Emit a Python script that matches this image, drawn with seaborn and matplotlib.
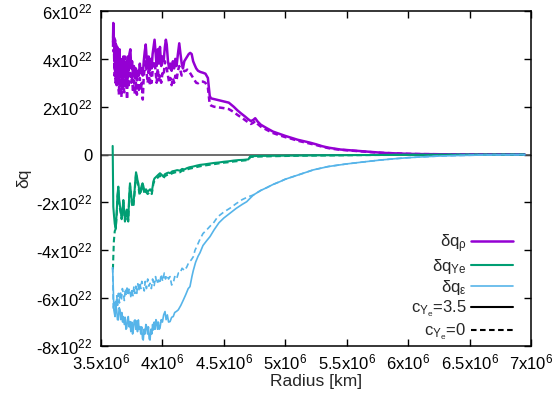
import numpy as np
import pandas as pd
import matplotlib
matplotlib.use("Agg")
import matplotlib.pyplot as plt
from matplotlib.lines import Line2D
import seaborn as sns

# Radius in units of 1e6 km, delta q in units of 1e22
rho_c35 = [
    (3.598, 4.7), (3.600, 5.5), (3.603, 4.6), (3.606, 4.9), (3.610, 3.9), (3.614, 4.8),
    (3.618, 3.7), (3.622, 4.6), (3.627, 3.5), (3.632, 4.5), (3.637, 3.6), (3.641, 4.2),
    (3.646, 3.3), (3.651, 4.4), (3.656, 3.5), (3.661, 4.0), (3.666, 3.2), (3.671, 3.9),
    (3.676, 3.4), (3.682, 4.1), (3.688, 3.3), (3.694, 3.7), (3.700, 3.2), (3.706, 3.9),
    (3.712, 3.4), (3.718, 4.1), (3.724, 3.5), (3.731, 4.2), (3.739, 4.4), (3.746, 3.6),
    (3.753, 3.9), (3.760, 3.3), (3.768, 3.7), (3.776, 3.2), (3.784, 3.6), (3.792, 3.1),
    (3.800, 3.5), (3.808, 3.3), (3.816, 3.8), (3.824, 3.4), (3.832, 3.6), (3.840, 3.3),
    (3.848, 3.9), (3.856, 4.3), (3.864, 4.6), (3.872, 4.0), (3.880, 3.6), (3.888, 4.1),
    (3.896, 3.5), (3.904, 4.0), (3.912, 3.6), (3.920, 4.2), (3.928, 4.5), (3.936, 4.8),
    (3.944, 4.3), (3.953, 3.7), (3.962, 4.4), (3.971, 3.8), (3.980, 4.5), (3.990, 3.7),
    (4.000, 4.1), (4.010, 3.9), (4.020, 4.5), (4.028, 4.8), (4.035, 4.6), (4.045, 3.9),
    (4.055, 3.6), (4.065, 3.8), (4.075, 3.5), (4.085, 3.9), (4.095, 3.6), (4.105, 4.0),
    (4.115, 3.7), (4.126, 4.2), (4.137, 4.65), (4.147, 4.2), (4.157, 3.8), (4.167, 3.6),
    (4.178, 3.9), (4.190, 4.0), (4.202, 4.1), (4.214, 4.2), (4.226, 4.25), (4.238, 4.2),
    (4.250, 3.9), (4.262, 3.75), (4.275, 3.6), (4.290, 3.5), (4.310, 3.45), (4.330, 3.42),
    (4.350, 3.38), (4.370, 3.2), (4.385, 2.45), (4.395, 2.35), (4.420, 2.32), (4.460, 2.27),
    (4.500, 2.22), (4.540, 2.17), (4.580, 2.0), (4.610, 1.85), (4.640, 1.72), (4.670, 1.6),
    (4.700, 1.47), (4.720, 1.4), (4.740, 1.45), (4.755, 1.52), (4.775, 1.38), (4.800, 1.25),
    (4.850, 1.1), (4.900, 0.96), (4.950, 0.87), (5.000, 0.78), (5.050, 0.70), (5.100, 0.62),
    (5.150, 0.56), (5.200, 0.50), (5.250, 0.43), (5.300, 0.35), (5.350, 0.29), (5.400, 0.25),
    (5.450, 0.21), (5.500, 0.19), (5.600, 0.15), (5.700, 0.11), (5.800, 0.07), (5.900, 0.05),
    (6.000, 0.03), (6.100, 0.02), (6.200, 0.015), (6.300, 0.01), (6.400, 0.008), (6.500, 0.005),
    (6.600, 0.004), (6.700, 0.003), (6.800, 0.002), (6.950, 0.001),
]

rho_c0 = [
    (3.598, 4.5), (3.600, 5.2), (3.603, 4.3), (3.606, 4.4), (3.610, 3.3), (3.614, 4.3),
    (3.618, 3.0), (3.622, 4.0), (3.627, 2.9), (3.632, 3.9), (3.637, 3.0), (3.641, 3.6),
    (3.646, 2.5), (3.651, 3.8), (3.656, 2.8), (3.661, 3.4), (3.666, 2.4), (3.671, 3.3),
    (3.676, 2.7), (3.682, 3.5), (3.688, 2.6), (3.694, 4.1), (3.700, 3.0), (3.706, 3.3),
    (3.712, 2.3), (3.718, 3.5), (3.724, 2.8), (3.731, 3.6), (3.739, 3.9), (3.746, 3.0),
    (3.753, 3.3), (3.760, 2.6), (3.768, 3.1), (3.776, 2.5), (3.784, 3.0), (3.792, 2.5),
    (3.800, 2.9), (3.808, 2.7), (3.816, 3.2), (3.824, 2.7), (3.832, 3.0), (3.840, 2.3),
    (3.848, 3.3), (3.856, 3.6), (3.864, 3.9), (3.872, 3.4), (3.880, 3.0), (3.888, 3.5),
    (3.896, 2.9), (3.904, 3.4), (3.912, 3.0), (3.920, 3.5), (3.928, 3.7), (3.936, 3.9),
    (3.944, 3.5), (3.953, 3.0), (3.962, 3.6), (3.971, 3.1), (3.980, 3.3), (3.990, 3.0),
    (4.000, 3.4), (4.010, 3.3), (4.020, 3.9), (4.028, 3.7), (4.035, 3.6), (4.045, 3.3),
    (4.055, 3.0), (4.065, 3.2), (4.075, 2.9), (4.085, 3.2), (4.095, 3.0), (4.105, 3.3),
    (4.115, 3.1), (4.126, 3.5), (4.137, 3.7), (4.147, 3.5), (4.157, 3.3), (4.167, 3.4),
    (4.178, 3.5), (4.190, 3.5), (4.202, 3.55), (4.214, 3.5), (4.226, 3.4), (4.238, 3.3),
    (4.250, 3.2), (4.262, 3.1), (4.275, 3.0), (4.290, 2.98), (4.310, 3.05), (4.330, 3.05),
    (4.350, 3.0), (4.370, 2.8), (4.385, 2.1), (4.395, 2.05), (4.420, 2.0), (4.460, 1.97),
    (4.500, 1.94), (4.540, 1.90), (4.580, 1.78), (4.610, 1.66), (4.640, 1.56), (4.670, 1.45),
    (4.700, 1.34), (4.720, 1.28), (4.740, 1.33), (4.755, 1.40), (4.775, 1.28), (4.800, 1.17),
    (4.850, 1.03), (4.900, 0.90), (4.950, 0.81), (5.000, 0.73), (5.050, 0.66), (5.100, 0.58),
    (5.150, 0.52), (5.200, 0.46), (5.250, 0.40), (5.300, 0.33), (5.350, 0.27), (5.400, 0.23),
    (5.450, 0.20), (5.500, 0.18), (5.600, 0.14), (5.700, 0.10), (5.800, 0.07), (5.900, 0.05),
    (6.000, 0.03), (6.100, 0.02), (6.200, 0.015), (6.300, 0.01), (6.400, 0.008), (6.500, 0.005),
    (6.600, 0.004), (6.700, 0.003), (6.800, 0.002), (6.950, 0.001),
]

ye_c35 = [
    (3.595, 0.36), (3.600, -2.18), (3.605, -2.5), (3.612, -2.9), (3.620, -3.08), (3.628, -2.4),
    (3.634, -1.7), (3.641, -1.34), (3.648, -1.9), (3.655, -2.18), (3.662, -2.4), (3.668, -2.6),
    (3.675, -2.3), (3.682, -1.9), (3.689, -2.4), (3.695, -2.73), (3.702, -2.5), (3.710, -2.3),
    (3.716, -2.6), (3.722, -2.73), (3.729, -1.8), (3.736, -1.2), (3.744, -1.6), (3.752, -2.0),
    (3.763, -2.1), (3.772, -1.6), (3.779, -1.1), (3.785, -0.74), (3.792, -0.9), (3.798, -1.1),
    (3.804, -1.2), (3.811, -1.5), (3.817, -1.62), (3.824, -1.45), (3.831, -1.3), (3.838, -1.2),
    (3.844, -1.3), (3.852, -1.5), (3.860, -1.55), (3.866, -1.45), (3.872, -1.5), (3.880, -1.55),
    (3.890, -1.5), (3.900, -1.45), (3.913, -1.55), (3.920, -1.35), (3.926, -1.13), (3.935, -1.0),
    (3.945, -0.95), (3.955, -0.9), (3.965, -0.85), (3.980, -0.78), (3.995, -0.85), (4.007, -0.92),
    (4.020, -0.82), (4.035, -0.78), (4.050, -0.75), (4.062, -0.78), (4.080, -0.7), (4.100, -0.68),
    (4.120, -0.65), (4.143, -0.67), (4.160, -0.6), (4.180, -0.62), (4.198, -0.57), (4.220, -0.53),
    (4.250, -0.5), (4.280, -0.46), (4.306, -0.43), (4.340, -0.41), (4.380, -0.38), (4.420, -0.35),
    (4.460, -0.33), (4.500, -0.3), (4.540, -0.28), (4.580, -0.25), (4.620, -0.23), (4.660, -0.22),
    (4.700, -0.2), (4.715, -0.07), (4.760, -0.06), (4.820, -0.055), (4.900, -0.05), (5.000, -0.045),
    (5.100, -0.04), (5.200, -0.035), (5.300, -0.03), (5.400, -0.028), (5.500, -0.025), (5.600, -0.02),
    (5.700, -0.018), (5.800, -0.015), (5.900, -0.012), (6.000, -0.01), (6.200, -0.008), (6.400, -0.006),
    (6.600, -0.004), (6.800, -0.002), (6.950, -0.001),
]

ye_c0 = [
    (3.597, -4.8), (3.600, -4.3), (3.605, -3.6), (3.612, -3.2), (3.620, -3.1), (3.628, -2.5),
    (3.634, -1.8), (3.641, -1.45), (3.648, -2.0), (3.655, -2.3), (3.662, -2.5), (3.668, -2.7),
    (3.675, -2.4), (3.682, -2.0), (3.689, -2.5), (3.695, -2.8), (3.702, -2.6), (3.710, -2.4),
    (3.716, -2.7), (3.722, -2.8), (3.729, -1.9), (3.736, -1.3), (3.744, -1.7), (3.752, -2.1),
    (3.763, -2.2), (3.772, -1.7), (3.779, -1.2), (3.785, -0.85), (3.792, -1.0), (3.798, -1.2),
    (3.804, -1.3), (3.811, -1.6), (3.817, -1.7), (3.824, -1.55), (3.831, -1.4), (3.838, -1.3),
    (3.844, -1.4), (3.852, -1.6), (3.860, -1.65), (3.866, -1.55), (3.872, -1.6), (3.880, -1.65),
    (3.890, -1.6), (3.900, -1.55), (3.913, -1.65), (3.920, -1.45), (3.926, -1.23), (3.935, -1.1),
    (3.945, -1.05), (3.955, -1.0), (3.965, -0.95), (3.980, -0.88), (3.995, -0.95), (4.007, -1.0),
    (4.020, -0.9), (4.035, -0.86), (4.050, -0.83), (4.062, -0.85), (4.080, -0.78), (4.100, -0.75),
    (4.120, -0.72), (4.143, -0.74), (4.160, -0.67), (4.180, -0.68), (4.198, -0.63), (4.220, -0.59),
    (4.250, -0.56), (4.280, -0.52), (4.306, -0.49), (4.340, -0.46), (4.380, -0.43), (4.420, -0.4),
    (4.460, -0.37), (4.500, -0.34), (4.540, -0.32), (4.580, -0.29), (4.620, -0.27), (4.660, -0.25),
    (4.700, -0.23), (4.715, -0.1), (4.760, -0.09), (4.820, -0.08), (4.900, -0.07), (5.000, -0.06),
    (5.100, -0.05), (5.200, -0.045), (5.300, -0.04), (5.400, -0.035), (5.500, -0.03), (5.600, -0.025),
    (5.700, -0.02), (5.800, -0.018), (5.900, -0.015), (6.000, -0.012), (6.200, -0.01), (6.400, -0.007),
    (6.600, -0.005), (6.800, -0.003), (6.950, -0.001),
]

eps_c35 = [
    (3.595, -4.74), (3.600, -5.6), (3.605, -6.5), (3.614, -6.77), (3.621, -6.3), (3.628, -6.49),
    (3.634, -6.9), (3.641, -6.91), (3.648, -6.4), (3.655, -6.49), (3.662, -6.9), (3.669, -6.6),
    (3.676, -7.0), (3.682, -6.77), (3.690, -7.1), (3.697, -6.8), (3.703, -7.3), (3.709, -7.26),
    (3.716, -6.9), (3.722, -6.77), (3.729, -7.2), (3.736, -6.98), (3.743, -7.4), (3.750, -7.0),
    (3.757, -7.5), (3.763, -7.33), (3.770, -6.95), (3.777, -6.91), (3.784, -7.3), (3.791, -6.95),
    (3.797, -7.4), (3.804, -6.91), (3.810, -7.3), (3.817, -7.19), (3.824, -7.5), (3.831, -7.2),
    (3.838, -7.7), (3.844, -7.75), (3.851, -7.3), (3.858, -7.5), (3.865, -7.1), (3.872, -7.19),
    (3.879, -7.5), (3.886, -7.2), (3.892, -7.7), (3.899, -7.75), (3.906, -7.3), (3.913, -7.5),
    (3.920, -7.1), (3.926, -7.33), (3.933, -7.0), (3.940, -7.3), (3.947, -6.9), (3.953, -6.98),
    (3.960, -7.3), (3.967, -7.0), (3.973, -7.3), (3.980, -7.26), (3.990, -6.9), (4.000, -7.0),
    (4.010, -6.7), (4.021, -6.56), (4.030, -6.9), (4.040, -6.7), (4.050, -7.0), (4.062, -6.98),
    (4.075, -6.8), (4.088, -6.77), (4.100, -6.6), (4.115, -6.55), (4.129, -6.49), (4.150, -6.3),
    (4.170, -6.08), (4.190, -5.85), (4.210, -5.6), (4.224, -5.52), (4.240, -5.1), (4.251, -4.85),
    (4.270, -4.5), (4.290, -4.25), (4.306, -4.1), (4.330, -3.8), (4.360, -3.6), (4.387, -3.43),
    (4.420, -3.15), (4.460, -2.85), (4.500, -2.65), (4.550, -2.45), (4.600, -2.25), (4.650, -2.08),
    (4.686, -1.97), (4.740, -1.69), (4.800, -1.5), (4.850, -1.38), (4.900, -1.25), (4.957, -1.13),
    (5.000, -1.03), (5.100, -0.86), (5.228, -0.64), (5.350, -0.5), (5.500, -0.39), (5.650, -0.3),
    (5.771, -0.23), (5.900, -0.17), (6.000, -0.13), (6.100, -0.1), (6.259, -0.06), (6.400, -0.04),
    (6.600, -0.02), (6.800, -0.01), (6.950, -0.005),
]

eps_c0 = [
    (3.595, -4.7), (3.600, -6.49), (3.607, -6.2), (3.614, -6.08), (3.621, -6.4), (3.628, -5.9),
    (3.635, -6.3), (3.642, -5.8), (3.650, -6.2), (3.658, -5.7), (3.666, -6.1), (3.674, -5.6),
    (3.682, -5.8), (3.690, -6.1), (3.698, -5.6), (3.706, -5.9), (3.714, -5.5), (3.722, -5.9),
    (3.730, -5.6), (3.736, -5.66), (3.744, -6.0), (3.752, -5.6), (3.760, -5.9), (3.768, -5.5),
    (3.776, -5.8), (3.784, -5.5), (3.791, -5.8), (3.800, -5.4), (3.808, -5.7), (3.816, -5.35),
    (3.824, -5.6), (3.832, -5.3), (3.844, -5.52), (3.852, -5.7), (3.860, -5.3), (3.870, -5.6),
    (3.880, -5.2), (3.890, -5.5), (3.899, -5.38), (3.910, -5.6), (3.920, -5.2), (3.932, -5.5),
    (3.944, -5.1), (3.955, -5.4), (3.966, -5.24), (3.978, -5.4), (3.990, -5.0), (4.002, -5.3),
    (4.015, -4.95), (4.025, -5.2), (4.035, -5.03), (4.050, -5.2), (4.062, -5.1), (4.075, -5.45),
    (4.088, -5.38), (4.100, -5.1), (4.115, -5.2), (4.130, -4.95), (4.143, -4.96), (4.160, -4.75),
    (4.180, -4.85), (4.198, -4.7), (4.215, -4.5), (4.235, -4.4), (4.251, -4.27), (4.265, -4.0),
    (4.279, -3.85), (4.300, -3.6), (4.330, -3.3), (4.360, -3.15), (4.390, -2.98), (4.414, -2.87),
    (4.450, -2.6), (4.500, -2.4), (4.550, -2.24), (4.600, -2.05), (4.650, -1.88), (4.700, -1.76),
    (4.740, -1.69), (4.800, -1.5), (4.850, -1.38), (4.900, -1.25), (4.957, -1.13), (5.000, -1.03),
    (5.100, -0.86), (5.228, -0.64), (5.350, -0.5), (5.500, -0.39), (5.650, -0.3), (5.771, -0.23),
    (5.900, -0.17), (6.000, -0.13), (6.100, -0.1), (6.259, -0.06), (6.400, -0.04), (6.600, -0.02),
    (6.800, -0.01), (6.950, -0.005),
]

x_ticks = [3.5, 4.0, 4.5, 5.0, 5.5, 6.0, 6.5, 7.0]
y_ticks = [-8, -6, -4, -2, 0, 2, 4, 6]
quantity_labels = ["δq$_\\mathrm{ρ}$", "δq$_\\mathrm{Ye}$", "δq$_\\mathrm{ε}$"]
case_labels = ["c$_{\\mathrm{Y}_\\mathrm{e}}$=3.5", "c$_{\\mathrm{Y}_\\mathrm{e}}$=0"]

colors = {"rho": "#9400d3", "ye": "#009e73", "eps": "#56b4e9"}
widths = {"rho": 1.8, "ye": 1.5, "eps": 1.2}
styles = {"c35": "-", "c0": (0, (4.0, 2.5))}

curves = [
    ("rho", "c35", rho_c35), ("rho", "c0", rho_c0),
    ("ye", "c35", ye_c35), ("ye", "c0", ye_c0),
    ("eps", "c35", eps_c35), ("eps", "c0", eps_c0),
]

frames = []
for qty, case, pts in curves:
    arr = np.array(pts)
    frames.append(pd.DataFrame({"radius": arr[:, 0] * 1e6, "dq": arr[:, 1] * 1e22,
                                "qty": qty, "case": case}))
data = pd.concat(frames, ignore_index=True)

sns.set_style("ticks")
plt.rcParams.update({
    "font.family": ["Liberation Sans", "DejaVu Sans"],
    "mathtext.fontset": "custom",
    "mathtext.rm": "Liberation Sans",
    "mathtext.it": "Liberation Sans:italic",
    "mathtext.bf": "Liberation Sans:bold",
    "mathtext.sf": "Liberation Sans",
    "font.size": 12,
    "lines.scale_dashes": False,
})

fig = plt.figure(figsize=(5.53, 3.94), dpi=100)
ax = fig.add_axes([101 / 553, 1 - 346 / 394, 430 / 553, 335 / 394])

ax.axhline(0, color="#555555", lw=1.2, zorder=1)

for qty, case, _ in curves:
    sub = data[(data.qty == qty) & (data.case == case)]
    sns.lineplot(data=sub, x="radius", y="dq", ax=ax, color=colors[qty],
                 lw=widths[qty], linestyle=styles[case], estimator=None,
                 sort=False, legend=False, zorder=2)

ax.set_xlim(3.5e6, 7e6)
ax.set_ylim(-8e22, 6e22)
ax.set_xticks([v * 1e6 for v in x_ticks])
ax.set_xticklabels([f"{v:g}x10$^{{6}}$" for v in x_ticks])
ax.set_yticks([v * 1e22 for v in y_ticks])
ax.set_yticklabels(["0" if v == 0 else f"{v}x10$^{{22}}$" for v in y_ticks])
ax.tick_params(direction="in", top=True, right=True, length=5, width=1,
               labelsize=12, colors="black")
ax.tick_params(axis="y", pad=6)
ax.tick_params(axis="x", pad=5)
for sp in ax.spines.values():
    sp.set_color("black")
    sp.set_linewidth(1.1)

ax.set_xlabel("Radius [km]", fontsize=12.5, labelpad=1)
ax.set_ylabel("δq", fontsize=12.5, labelpad=4)

handles = [Line2D([], [], color=colors[k], lw=widths[k]) for k in ("rho", "ye", "eps")]
handles += [Line2D([], [], color="black", lw=1.5, linestyle=styles["c35"]),
            Line2D([], [], color="black", lw=1.5, linestyle=styles["c0"])]
ax.legend(handles, quantity_labels + case_labels, loc="lower right",
          bbox_to_anchor=(513 / 553, (394 - 342) / 394), bbox_transform=fig.transFigure,
          frameon=False, markerfirst=False, handlelength=2.5, handletextpad=0.3,
          labelspacing=0.12, borderpad=0, borderaxespad=0, fontsize=12)

fig.savefig("out.png", dpi=100)
